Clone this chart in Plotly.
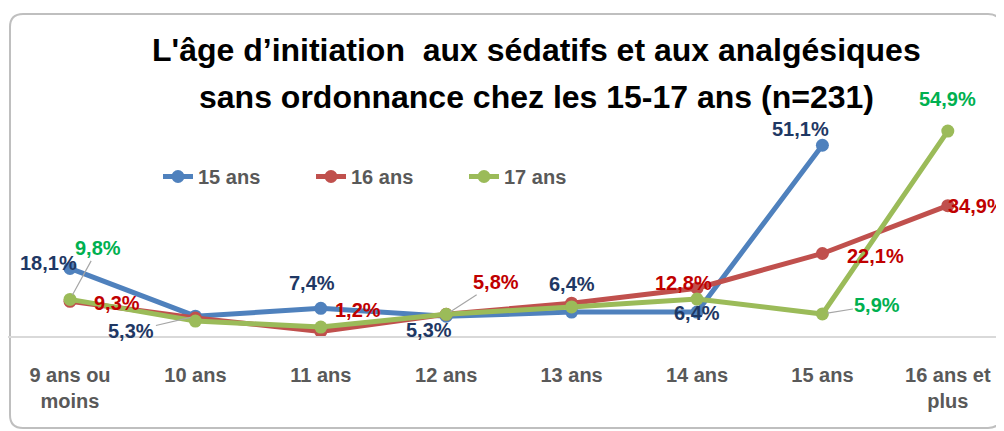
import plotly.graph_objects as go

# ---------------- data ----------------
categories = ["9 ans ou<br>moins", "10 ans", "11 ans", "12 ans", "13 ans",
              "14 ans", "15 ans", "16 ans et<br>plus"]
series_names = ["15 ans", "16 ans", "17 ans"]
v15 = [18.1, 5.3, 7.4, 5.3, 6.4, 6.4, 51.1, None]
v16 = [9.3, 4.8, 1.2, 5.8, 8.8, 12.8, 22.1, 34.9]
v17 = [9.8, 4.0, 2.4, 5.8, 7.8, 9.9, 5.9, 54.9]

# which points carry a data label
lab15 = [0, 1, 2, 3, 4, 5, 6]
lab16 = [0, 2, 3, 5, 6, 7]
lab17 = [0, 6, 7]

# ---------------- styles ----------------
line_colors = ["#4F81BD", "#C0504D", "#9BBB59"]
label_colors = ["#1F3864", "#C00000", "#00B050"]
FONT = "Liberation Sans, Arial, sans-serif"

# label offsets (dx, dy in px, dy down) and leader-line flag
off15 = {0: (-22, -5, False), 1: (-64, 15, True), 2: (-9, -25, False),
         3: (-17, 14, False), 4: (0, -28, False), 5: (0, 1, False),
         6: (-22, -16, False)}
off16 = {0: (47, 2, False), 2: (37, -22, False), 3: (50, -32, True),
         5: (-14, -5, False), 6: (53, 3, False), 7: (29, 0, False)}
off17 = {0: (28, -51, True), 6: (55, -9, True), 7: (0, -32, False)}

# layout geometry (page has an 8px body margin)
OFF = 8
W, H = 1004 - OFF, 431 - OFF
L, R, T, B = 0, 0, 104, 95
PW, PH = W - L - R, H - T - B
STEP = 125.4                      # px per category
X0 = -(70 - OFF - L) / STEP       # left end of x range
X1 = X0 + PW / STEP


def xp(px):
    return (px - OFF - L) / PW


def yp(py):
    return (H - B - (py - OFF)) / PH


fig = go.Figure()
all_vals = [v15, v16, v17]
for name, vals, col in zip(series_names, all_vals, line_colors):
    fig.add_trace(go.Scatter(
        x=categories, y=vals, name=f"<b>{name}</b>", mode="lines+markers",
        line=dict(color=col, width=5),
        marker=dict(color=col, size=13),
        connectgaps=False,
    ))


def fmt(v):
    return f"{v:.1f}".replace(".", ",") + "%"


annotations = []
for vals, labs, offs, col in zip(all_vals, [lab15, lab16, lab17],
                                 [off15, off16, off17], label_colors):
    for i in labs:
        dx, dy, leader = offs[i]
        base = dict(x=categories[i], y=vals[i], xref="x", yref="y",
                    text=f"<b>{fmt(vals[i])}</b>",
                    font=dict(family=FONT, size=20, color=col))
        if leader:
            base.update(showarrow=True, ax=dx, ay=dy, arrowhead=0,
                        arrowwidth=1.2, arrowcolor="#A6A6A6", standoff=5)
        else:
            base.update(showarrow=False, xshift=dx, yshift=-dy)
        annotations.append(base)

# title (two lines)
title_lines = ["L'âge d’initiation  aux sédatifs et aux analgésiques",
               "sans ordonnance chez les 15-17 ans (n=231)"]
for txt, py in zip(title_lines, [50, 97]):
    annotations.append(dict(
        x=xp(536), y=yp(py), xref="paper", yref="paper",
        text=f"<b>{txt}</b>", showarrow=False,
        xanchor="center", yanchor="middle",
        font=dict(family=FONT, size=32, color="#000000")))

# rounded chart border
x0, x1, y0, y1, r = xp(10), xp(1001), yp(14), yp(428), 13
rx, ry = r / PW, r / PH
path = (f"M {x0+rx},{y0} L {x1-rx},{y0} Q {x1},{y0} {x1},{y0-ry} "
        f"L {x1},{y1+ry} Q {x1},{y1} {x1-rx},{y1} L {x0+rx},{y1} "
        f"Q {x0},{y1} {x0},{y1+ry} L {x0},{y0-ry} Q {x0},{y0} {x0+rx},{y0} Z")

fig.update_layout(
    width=W, height=H,
    margin=dict(l=L, r=R, t=T, b=B, pad=0),
    paper_bgcolor="white", plot_bgcolor="white",
    showlegend=True,
    legend=dict(orientation="h", x=xp(158), y=yp(157), xanchor="left",
                yanchor="top", font=dict(family=FONT, size=20, color="#595959"),
                entrywidth=108, entrywidthmode="pixels",
                bgcolor="rgba(0,0,0,0)"),
    xaxis=dict(type="category", range=[X0, X1], showgrid=False,
               showline=True, linecolor="#D9D9D9", linewidth=1.5,
               ticks="", ticklabelstandoff=20,
               tickfont=dict(family=FONT, size=20, color="#595959"),
               fixedrange=True),
    yaxis=dict(range=[0, 60], visible=False, showgrid=False, zeroline=False),
    annotations=annotations,
    shapes=[dict(type="path", path=path, xref="paper", yref="paper",
                 line=dict(color="#BFBFBF", width=2), layer="below")],
)
fig.update_xaxes(tickvals=categories,
                 ticktext=[f"<b>{c}</b>" for c in categories])

fig.write_html("out.html")
